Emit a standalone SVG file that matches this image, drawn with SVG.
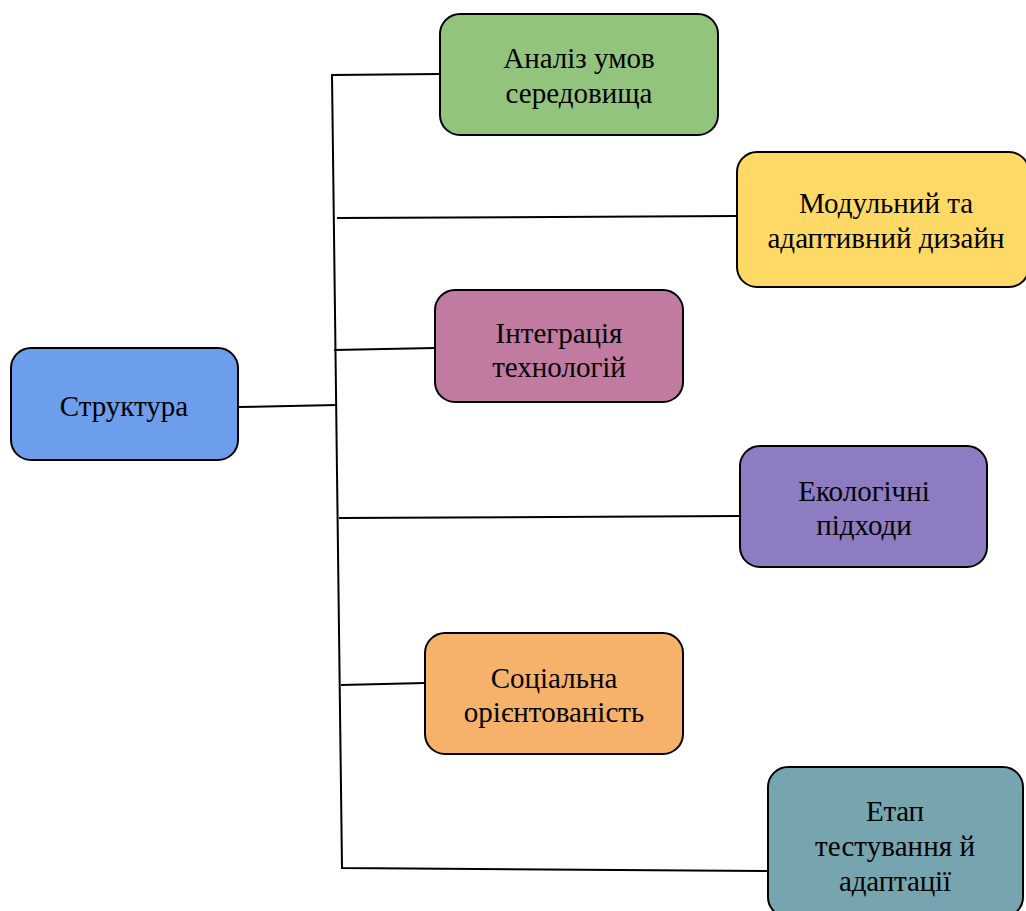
<svg xmlns="http://www.w3.org/2000/svg" width="1026" height="911" viewBox="0 0 1026 911">
<style>
.box{stroke:#000;stroke-width:2}
.t{font-family:"Liberation Serif","Times New Roman",serif;font-size:29px;fill:#000;text-anchor:middle}
.c{stroke:#000;stroke-width:2;fill:none}
</style>
<rect width="1026" height="911" fill="#fff"/>
<g id="connectors">
<polyline class="c" points="440,74 332,75 342,868 768,871"/>
<line class="c" x1="337" y1="218" x2="737" y2="216"/>
<line class="c" x1="334" y1="350" x2="435" y2="348"/>
<line class="c" x1="238" y1="407" x2="337" y2="405"/>
<line class="c" x1="339" y1="518" x2="740" y2="516"/>
<line class="c" x1="341" y1="685" x2="425" y2="683"/>
</g>
<g id="n-analiz">
<rect class="box" x="440" y="14" width="278" height="121" rx="20" fill="#93c47d"/>
<text class="t" x="579" y="68">Аналіз умов</text>
<text class="t" x="579" y="103">середовища</text>
</g>
<g id="n-modul">
<rect class="box" x="737" y="152" width="292" height="135" rx="20" fill="#ffd966"/>
<text class="t" x="886" y="213">Модульний та</text>
<text class="t" x="886" y="248">адаптивний дизайн</text>
</g>
<g id="n-integr">
<rect class="box" x="435" y="290" width="248" height="112" rx="20" fill="#c27ba0"/>
<text class="t" x="559" y="343">Інтеграція</text>
<text class="t" x="559" y="377">технологій</text>
</g>
<g id="n-struct">
<rect class="box" x="11" y="348" width="227" height="112" rx="20" fill="#6d9eeb"/>
<text class="t" x="124" y="416">Структура</text>
</g>
<g id="n-eco">
<rect class="box" x="740" y="446" width="247" height="121" rx="20" fill="#8e7cc3"/>
<text class="t" x="864" y="501">Екологічні</text>
<text class="t" x="864" y="535">підходи</text>
</g>
<g id="n-social">
<rect class="box" x="425" y="633" width="258" height="121" rx="20" fill="#f6b26b"/>
<text class="t" x="554" y="688">Соціальна</text>
<text class="t" x="554" y="722">орієнтованість</text>
</g>
<g id="n-etap">
<rect class="box" x="768" y="767" width="255" height="150" rx="20" fill="#76a5af"/>
<text class="t" x="895" y="821" textLength="58">Етап</text>
<text class="t" x="895" y="856" textLength="160">тестування й</text>
<text class="t" x="895" y="891" textLength="112">адаптації</text>
</g>
</svg>
